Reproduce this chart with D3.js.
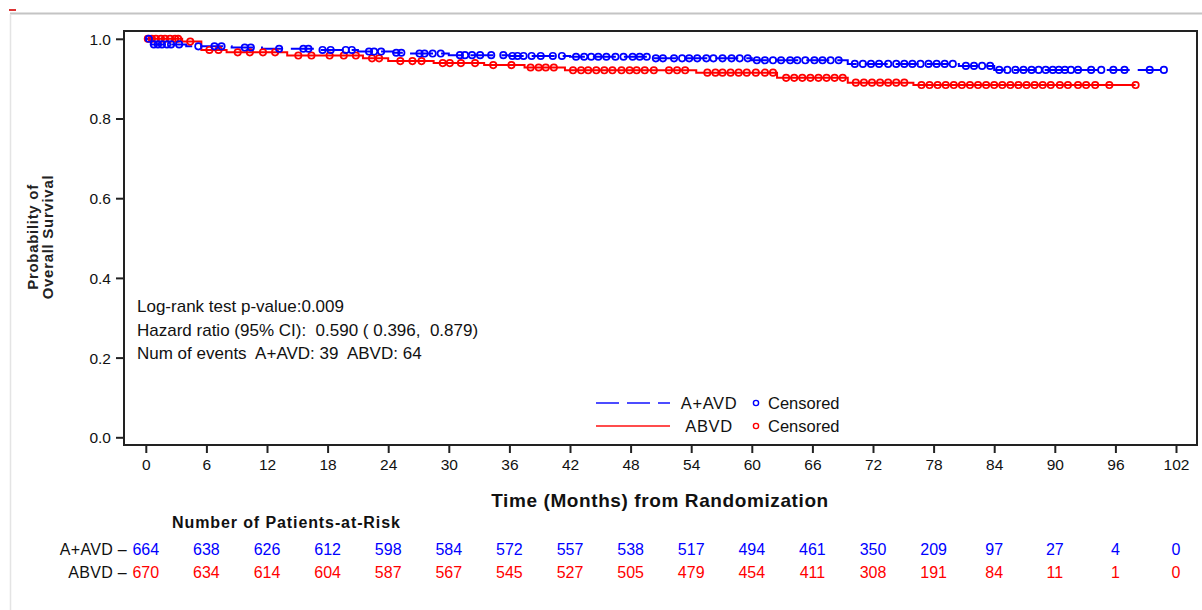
<!DOCTYPE html>
<html>
<head>
<meta charset="utf-8">
<script src="https://cdn.jsdelivr.net/npm/d3@7"></script>
<style>
  body { margin: 0; background: #fff; }
  svg { font-family: "Liberation Sans", Arial, sans-serif; }
  text { white-space: pre; }
</style>
</head>
<body>
<svg width="1202" height="610"></svg>
<script>
// Kaplan-Meier stappen (tijd in maanden, overleving)
var aavdTimes = [0, 0.5, 4, 8.5, 11.5, 17, 21, 24.5, 26, 30, 36, 42, 50, 60, 69.5, 80.5, 84, 100.8];
var aavdSurv  = [1.0, 0.986, 0.981, 0.978, 0.975, 0.972, 0.968, 0.965, 0.963, 0.959, 0.957, 0.955, 0.951, 0.946, 0.937, 0.932, 0.922, 0.922];
var abvdTimes = [0, 3.6, 5.5, 8, 14, 21.5, 24, 28.5, 33.5, 37.5, 41.5, 54.5, 62.5, 69.5, 76, 98];
var abvdSurv  = [1.0, 0.993, 0.972, 0.966, 0.958, 0.951, 0.944, 0.939, 0.934, 0.928, 0.921, 0.915, 0.902, 0.89, 0.884, 0.884];

// gecensureerde patienten (tijden)
var aavdCensor = [0.3,0.8,1.2,1.6,2.1,2.5,3.3,5.2,6.8,7.5,9.8,10.4,13.2,15.6,16.1,17.5,18.3,19.8,20.4,22.1,22.6,23.3,24.8,25.3,27.1,27.6,28.4,29.2,31.1,31.6,32.3,33.1,34.2,35.4,36.3,36.8,37.4,38.2,39.1,40.3,41.2,42.6,43.4,44.1,44.8,45.6,46.5,47.3,48.2,48.9,49.6,50.5,51.2,52.3,53.1,53.8,54.6,55.5,56.2,57.1,58.0,58.8,59.6,60.5,61.3,62.1,62.9,63.8,64.5,65.3,66.2,67.0,67.8,68.6,70.2,71.0,71.8,72.6,73.5,74.3,75.1,75.9,76.7,77.5,78.3,79.1,79.9,81.2,82.0,82.8,83.6,84.5,85.3,86.1,86.9,87.7,88.4,89.1,89.8,90.4,91.0,91.6,92.3,93.6,94.6,95.8,96.9,99.4,100.8];
var abvdCensor = [0.2,0.6,1.0,1.5,1.9,2.4,2.9,3.2,4.4,6.3,7.2,9.1,10.3,11.6,12.8,15.1,16.4,18.2,19.6,20.8,22.4,23.1,25.2,26.4,27.3,29.4,30.1,31.2,32.6,34.4,36.2,38.1,38.9,39.6,40.4,42.3,43.1,43.8,44.6,45.4,46.2,47.1,47.9,48.6,49.4,50.3,51.8,52.6,53.4,55.6,56.4,57.1,57.9,58.7,59.5,60.4,61.3,62.1,63.4,64.2,65.0,65.8,66.6,67.4,68.2,69.0,70.3,71.1,71.9,72.7,73.5,74.3,75.1,76.8,77.6,78.4,79.2,80.0,80.8,81.6,82.4,83.2,84.0,84.8,85.6,86.4,87.2,88.0,88.8,89.6,90.5,91.3,92.3,93.1,94.0,95.4,98.0];

var xTicks = [0, 6, 12, 18, 24, 30, 36, 42, 48, 54, 60, 66, 72, 78, 84, 90, 96, 102];
var yTicks = [0.0, 0.2, 0.4, 0.6, 0.8, 1.0];
var riskAAVD = [664, 638, 626, 612, 598, 584, 572, 557, 538, 517, 494, 461, 350, 209, 97, 27, 4, 0];
var riskABVD = [670, 634, 614, 604, 587, 567, 545, 527, 505, 479, 454, 411, 308, 191, 84, 11, 1, 0];

var blue = "#0000ff", red = "#ff0000";

var svg = d3.select("svg");

// rand van de pagina
svg.append("line").attr("x1", 10).attr("x2", 1202).attr("y1", 13.5).attr("y2", 13.5)
  .attr("stroke", "#c4c4c4").attr("stroke-width", 2);
svg.append("line").attr("x1", 10.5).attr("x2", 10.5).attr("y1", 14).attr("y2", 610)
  .attr("stroke", "#e4e4e4").attr("stroke-width", 1.5);
svg.append("rect").attr("x", 9).attr("y", 9).attr("width", 7).attr("height", 2).attr("fill", "#d33");

// schalen
var x = d3.scaleLinear().domain([0, 102]).range([145.8, 1176]);
var y = d3.scaleLinear().domain([0, 1]).range([437.3, 38.8]);

// frame van de plot
svg.append("rect").attr("x", 124).attr("y", 31).attr("width", 1073).attr("height", 414)
  .attr("fill", "none").attr("stroke", "#222").attr("stroke-width", 2);

// assen
var gx = svg.append("g").attr("transform", "translate(0,445)")
  .call(d3.axisBottom(x).tickValues(xTicks).tickSize(8).tickPadding(6).tickFormat(d3.format("d")));
var gy = svg.append("g").attr("transform", "translate(124,0)")
  .call(d3.axisLeft(y).tickValues(yTicks).tickSize(8).tickPadding(5).tickFormat(d3.format(".1f")));
[gx, gy].forEach(function(g) {
  g.select(".domain").remove();
  g.selectAll("line").attr("stroke", "#222").attr("stroke-width", 2);
  g.selectAll("text").attr("fill", "#111").style("font-size", "15.5px").style("font-family", "Liberation Sans, Arial");
});
gy.selectAll("text").attr("dy", "0.35em");

// curves
function steps(times, surv) {
  return times.map(function(t, i) { return [t, surv[i]]; });
}
function survAt(times, surv, t) {
  var s = surv[0];
  for (var i = 0; i < times.length; i++) if (times[i] <= t) s = surv[i];
  return s;
}
var line = d3.line().curve(d3.curveStepAfter)
  .x(function(d) { return x(d[0]); }).y(function(d) { return y(d[1]); });

svg.append("path").datum(steps(abvdTimes, abvdSurv)).attr("d", line)
  .attr("fill", "none").attr("stroke", red).attr("stroke-width", 2);
svg.append("path").datum(steps(aavdTimes, aavdSurv)).attr("d", line)
  .attr("fill", "none").attr("stroke", blue).attr("stroke-width", 2).attr("stroke-dasharray", "23 8");

svg.append("g").selectAll("circle").data(abvdCensor).enter().append("circle")
  .attr("cx", function(d) { return x(d); })
  .attr("cy", function(d) { return y(survAt(abvdTimes, abvdSurv, d)); })
  .attr("r", 3.2).attr("fill", "none").attr("stroke", red).attr("stroke-width", 1.7);
svg.append("g").selectAll("circle").data(aavdCensor).enter().append("circle")
  .attr("cx", function(d) { return x(d); })
  .attr("cy", function(d) { return y(survAt(aavdTimes, aavdSurv, d)); })
  .attr("r", 3.2).attr("fill", "none").attr("stroke", blue).attr("stroke-width", 1.7);

// y as titel
var yt = svg.append("text").attr("transform", "translate(40,237) rotate(-90)")
  .attr("text-anchor", "middle").style("font-size", "15px").style("font-weight", "bold")
  .style("letter-spacing", "0.7px").attr("fill", "#222");
yt.append("tspan").attr("x", 0).attr("dy", "-0.15em").text("Probability of");
yt.append("tspan").attr("x", 0).attr("dy", "1.0em").text("Overall Survival");

// x as titel
svg.append("text").attr("x", 660).attr("y", 507).attr("text-anchor", "middle")
  .style("font-size", "19px").style("font-weight", "bold").style("letter-spacing", "0.6px").attr("fill", "#111")
  .text("Time (Months) from Randomization");

// statistiek
var stats = ["Log-rank test p-value:0.009",
             "Hazard ratio (95% CI):  0.590 ( 0.396,  0.879)",
             "Num of events  A+AVD: 39  ABVD: 64"];
svg.append("g").selectAll("text").data(stats).enter().append("text")
  .attr("x", 137).attr("y", function(d, i) { return 312 + i * 23.5; })
  .style("font-size", "17px").attr("fill", "#111")
  .text(function(d) { return d; });

// legenda
var legend = [{name: "A+AVD", color: blue, dash: "23 8", y: 403},
              {name: "ABVD", color: red, dash: null, y: 426}];
var lg = svg.append("g").selectAll("g").data(legend).enter().append("g");
lg.append("line").attr("x1", 596).attr("x2", 670).attr("y1", function(d) { return d.y; }).attr("y2", function(d) { return d.y; })
  .attr("stroke", function(d) { return d.color; }).attr("stroke-width", 2).attr("stroke-opacity", 0.7)
  .attr("stroke-dasharray", function(d) { return d.dash; });
lg.append("text").attr("x", 709).attr("y", function(d) { return d.y + 6; }).attr("text-anchor", "middle")
  .style("font-size", "16.5px").style("letter-spacing", "0.6px").attr("fill", "#111").text(function(d) { return d.name; });
lg.append("circle").attr("cx", 756).attr("cy", function(d) { return d.y; }).attr("r", 2.6)
  .attr("fill", "none").attr("stroke", function(d) { return d.color; }).attr("stroke-width", 1.4);
lg.append("text").attr("x", 768).attr("y", function(d) { return d.y + 6; })
  .style("font-size", "16.5px").attr("fill", "#111").text("Censored");

// patienten at risk
svg.append("text").attr("x", 172).attr("y", 528).style("font-size", "16px").style("font-weight", "bold")
  .style("letter-spacing", "0.9px").attr("fill", "#111").text("Number of Patients-at-Risk");

var rows = [{name: "A+AVD", color: blue, vals: riskAAVD, y: 555},
            {name: "ABVD", color: red, vals: riskABVD, y: 578}];
rows.forEach(function(r) {
  svg.append("text").attr("x", 127).attr("y", r.y).attr("text-anchor", "end")
    .style("font-size", "16px").style("letter-spacing", "0.3px").attr("fill", "#111").text(r.name + " \u2013");
  svg.append("g").selectAll("text").data(r.vals).enter().append("text")
    .attr("x", function(d, i) { return x(xTicks[i]); }).attr("y", r.y)
    .attr("text-anchor", "middle").style("font-size", "16px").attr("fill", r.color)
    .text(function(d) { return d; });
});
</script>
</body>
</html>
